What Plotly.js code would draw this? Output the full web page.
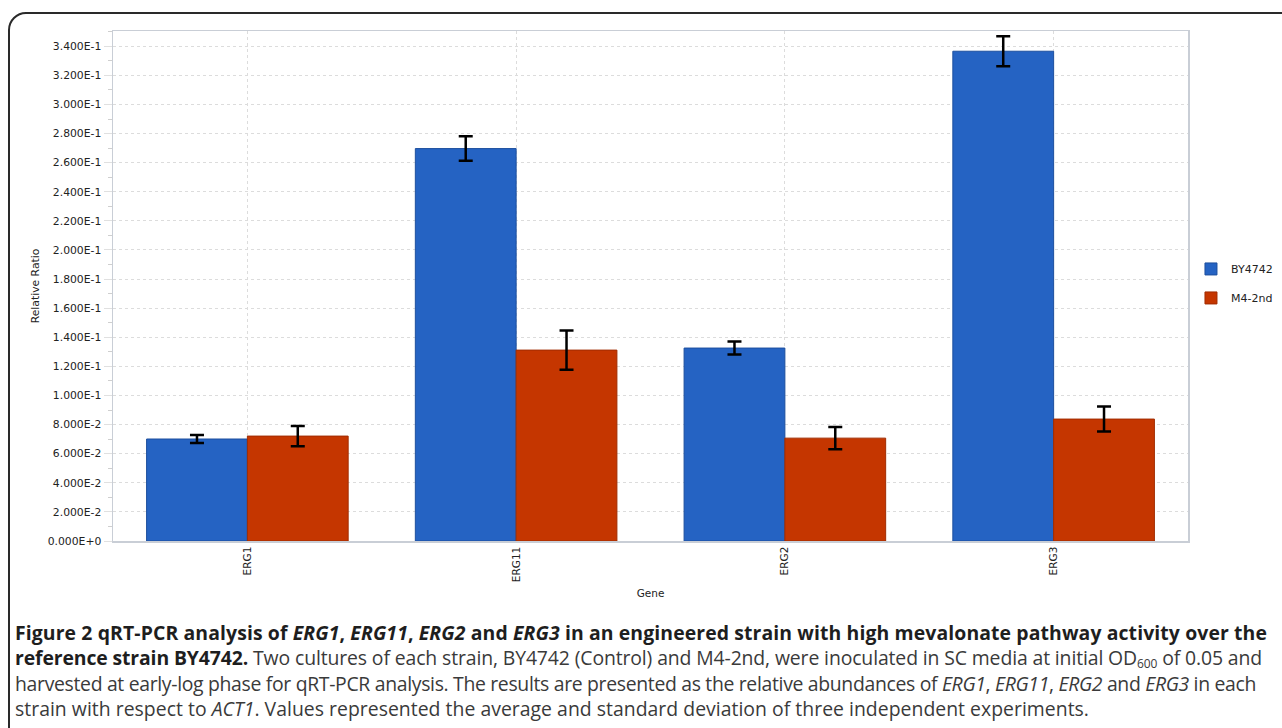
<!DOCTYPE html>
<html>
<head>
<meta charset="utf-8">
<script src="https://cdn.plot.ly/plotly-3.0.1.min.js"></script>
<style>
  html, body { margin:0; padding:0; background:#fff; width:1282px; height:728px; overflow:hidden; }
  #frame { position:absolute; left:8px; top:12px; width:1400px; height:800px; border:2px solid #2a2a2a; border-radius:18px; box-sizing:border-box; }
  #chart { position:absolute; left:0; top:0; width:1282px; height:728px; }
  #caption { position:absolute; left:15px; top:620px; font-family:"Open Sans", sans-serif; font-size:19.4px; line-height:25.3px; color:#3a3a3a; white-space:nowrap; }
  #caption .ln { display:inline-block; }
  #caption b { color:#1e1e1e; }
  #caption sub { font-size:12px; line-height:0; vertical-align:-3px; }
</style>
</head>
<body>
<div id="frame"></div>
<div id="chart"></div>
<div id="caption">
<div><span class="ln" data-right="1267"><b>Figure 2 qRT-PCR analysis of <i>ERG1</i>, <i>ERG11</i>, <i>ERG2</i> and <i>ERG3</i> in an engineered strain with high mevalonate pathway activity over the</b></span></div>
<div><span class="ln" data-right="1262"><b>reference strain BY4742.</b> Two cultures of each strain, BY4742 (Control) and M4-2nd, were inoculated in SC media at initial OD<sub>600</sub> of 0.05 and</span></div>
<div><span class="ln" data-right="1256">harvested at early-log phase for qRT-PCR analysis. The results are presented as the relative abundances of <i>ERG1</i>, <i>ERG11</i>, <i>ERG2</i> and <i>ERG3</i> in each</span></div>
<div><span class="ln" data-right="1089">strain with respect to <i>ACT1</i>. Values represented the average and standard deviation of three independent experiments.</span></div>
</div>
<script>
const genes = ["ERG1", "ERG11", "ERG2", "ERG3"];
const seriesNames = ["BY4742", "M4-2nd"];
const by4742 = [0.0701, 0.2697, 0.1326, 0.3366];
const by4742Err = [0.0028, 0.0084, 0.0045, 0.0103];
const m42nd = [0.0721, 0.1312, 0.0707, 0.0838];
const m42ndErr = [0.0069, 0.0135, 0.0076, 0.0086];
const yTickVals = [0, 0.02, 0.04, 0.06, 0.08, 0.10, 0.12, 0.14, 0.16, 0.18, 0.20, 0.22, 0.24, 0.26, 0.28, 0.30, 0.32, 0.34];
const yTickText = ["0.000E+0", "2.000E-2", "4.000E-2", "6.000E-2", "8.000E-2", "1.000E-1", "1.200E-1", "1.400E-1", "1.600E-1", "1.800E-1", "2.000E-1", "2.200E-1", "2.400E-1", "2.600E-1", "2.800E-1", "3.000E-1", "3.200E-1", "3.400E-1"];

// fit caption lines to the reference widths
document.querySelectorAll("#caption .ln").forEach(function (el) {
  const left = el.getBoundingClientRect().left;
  const target = parseFloat(el.getAttribute("data-right")) - left;
  const w = el.getBoundingClientRect().width;
  const n = el.textContent.replace(/\s+/g, " ").trim().length;
  el.style.letterSpacing = ((target - w) / n) + "px";
});

const font = {family: "DejaVu Sans, Verdana, sans-serif", size: 10.5, color: "#222"};

const traces = [
  {
    type: "bar", name: seriesNames[0], x: genes, y: by4742, legendgroup: "a",
    marker: {color: "#2563c3", line: {color: "#1d4f9e", width: 1}},
    error_y: {type: "data", array: by4742Err, visible: true, color: "#000", thickness: 2.5, width: 7}
  },
  {
    type: "bar", name: seriesNames[1], x: genes, y: m42nd, legendgroup: "b",
    marker: {color: "#c53600", line: {color: "#a12c00", width: 1}},
    error_y: {type: "data", array: m42ndErr, visible: true, color: "#000", thickness: 2.5, width: 7}
  }
];

const layout = {
  width: 1282, height: 728,
  margin: {l: 113, r: 94, t: 31, b: 187, autoexpand: false},
  paper_bgcolor: "rgba(0,0,0,0)", plot_bgcolor: "#fff",
  barmode: "group", bargap: 0.25, bargroupgap: 0,
  font: font,
  showlegend: true,
  legend: {xref: "container", x: 0.929, xanchor: "left", y: 0.505, yanchor: "middle", font: {family: font.family, size: 11, color: "#222"}, tracegroupgap: 10, bgcolor: "rgba(0,0,0,0)"},
  xaxis: {
    type: "category", tickangle: -90, showgrid: true, gridcolor: "#dcdcdc", griddash: "dot", gridwidth: 1,
    showline: true, linecolor: "#c9ced6", linewidth: 1.5, mirror: true, ticks: "", ticklen: 0,
    tickfont: {family: font.family, size: 10.5, color: "#222"},
    title: {text: "Gene", font: {family: font.family, size: 10.5, color: "#222"}, standoff: 8}
  },
  yaxis: {
    range: [0, 0.3505], tickmode: "array", tickvals: yTickVals, ticktext: yTickText,
    showgrid: true, gridcolor: "#dcdcdc", griddash: "dot", gridwidth: 1,
    showline: true, linecolor: "#c9ced6", linewidth: 1.5, mirror: true, zeroline: false,
    ticks: "outside", ticklen: 8, tickcolor: "#e0e0e0", tickwidth: 1,
    minor: {dtick: 0.01, tick0: 0, ticks: "outside", ticklen: 4, tickcolor: "#cfcfcf", showgrid: false},
    tickfont: {family: font.family, size: 10.8, color: "#222"},
    title: {text: "Relative Ratio", font: {family: font.family, size: 10.8, color: "#222"}, standoff: 6}
  }
};

Plotly.newPlot("chart", traces, layout, {displayModeBar: false, staticPlot: true});
</script>
</body>
</html>
